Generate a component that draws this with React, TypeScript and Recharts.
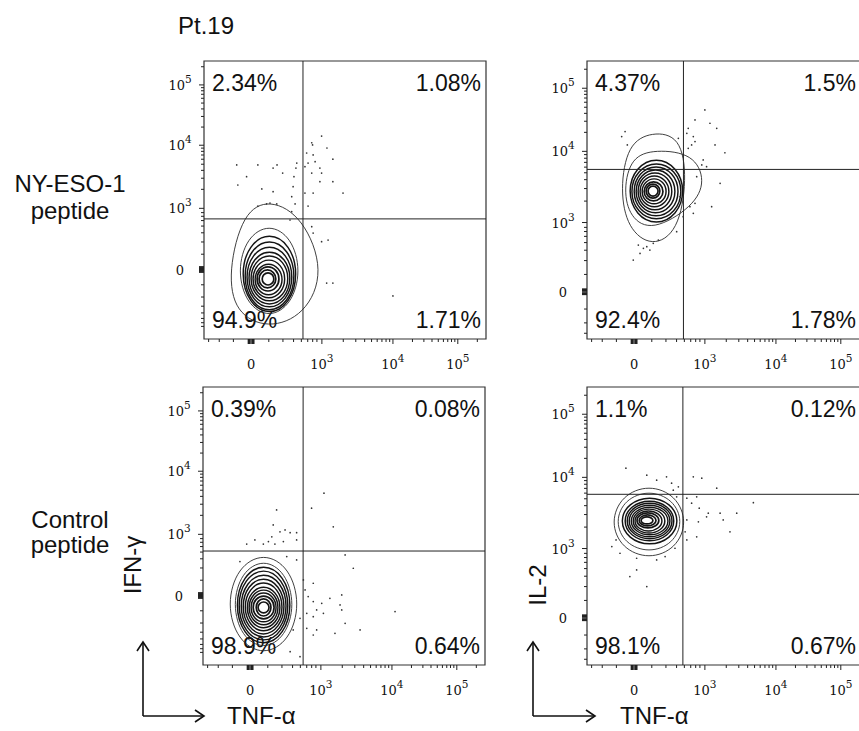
import React from "react";
import { ComposedChart, XAxis, YAxis, Line, Scatter, ReferenceLine, ReferenceArea } from "recharts";

// ---- axis ticks (display channel units 0..1000 across each plot frame) ----
const X_MAJOR_TICKS = [167, 418, 670, 900]; // TNF-α: 0, 10^3, 10^4, 10^5
const IFNG_MAJOR_TICKS = [250, 470, 697, 914]; // IFN-γ: 0, 10^3, 10^4, 10^5
const IL2_MAJOR_TICKS = [170, 419, 675, 902]; // IL-2: 0, 10^3, 10^4, 10^5
const MAJOR_TICK_LABELS = ["0", "3", "4", "5"]; // "0", then exponents of 10

// ---- quadrant percentages: [upper-left, upper-right, lower-left, lower-right] ----
const NY_IFNG_QUADS = ["2.34%", "1.08%", "94.9%", "1.71%"];
const NY_IL2_QUADS = ["4.37%", "1.5%", "92.4%", "1.78%"];
const CTRL_IFNG_QUADS = ["0.39%", "0.08%", "98.9%", "0.64%"];
const CTRL_IL2_QUADS = ["1.1%", "0.12%", "98.1%", "0.67%"];

// ---- quadrant gates [x, y] ----
const NY_IFNG_GATE = [351, 432];
const NY_IL2_GATE = [342, 610];
const CTRL_IFNG_GATE = [355, 410];
const CTRL_IL2_GATE = [340, 614];

// ---- contour rings (closed, control points) ----
const NY_IFNG_CONTOURS = [
  [[429,243],[351,439],[234,504],[138,457],[85,241],[110,93],[227,36],[358,86]],
  [[344,245],[311,365],[231,415],[151,365],[118,245],[151,125],[231,75],[311,125]],
  [[335,234],[305,340],[232,384],[159,340],[129,234],[159,128],[232,84],[305,128]],
  [[328,227],[300,322],[232,362],[164,322],[137,227],[164,132],[232,92],[300,132]],
  [[320,223],[294,307],[232,342],[170,307],[144,223],[170,139],[232,104],[294,139]],
  [[312,219],[289,292],[232,322],[175,292],[152,219],[175,146],[232,116],[289,146]],
  [[304,218],[283,281],[232,307],[181,281],[160,218],[181,155],[232,129],[283,155]],
  [[292,216],[274,269],[230,291],[186,269],[168,216],[186,163],[230,141],[274,163]],
  [[282,214],[266,257],[229,275],[192,257],[176,214],[192,171],[229,153],[266,171]],
  [[270,216],[257,250],[227,264],[197,250],[184,216],[197,182],[227,168],[257,182]],
  [[258,216],[248,241],[225,252],[202,241],[192,216],[202,191],[225,180],[248,191]],
  [[250,216],[243,233],[227,240],[211,233],[204,216],[211,199],[227,192],[243,199]],
];
const NY_IL2_CONTOURS = [
  [[355,576],[332,730],[230,746],[144,702],[117,536],[144,397],[230,330],[324,386]],
  [[421,568],[378,667],[242,682],[156,655],[129,536],[152,437],[230,386],[378,477]],
  [[349,532],[319,619],[246,655],[173,619],[143,532],[173,445],[246,409],[319,445]],
  [[342,531],[314,608],[246,640],[178,608],[150,531],[178,454],[246,422],[314,454]],
  [[331,531],[306,600],[245,628],[184,600],[159,531],[184,462],[245,434],[306,462]],
  [[319,531],[297,591],[243,616],[189,591],[167,531],[189,471],[243,446],[297,471]],
  [[307,531],[288,583],[241,604],[194,583],[175,531],[194,479],[241,458],[288,479]],
  [[296,531],[279,574],[239,592],[199,574],[183,531],[199,488],[239,470],[279,488]],
  [[285,531],[271,566],[238,581],[205,566],[191,531],[205,496],[238,482],[271,496]],
  [[273,531],[262,558],[236,569],[210,558],[199,531],[210,504],[236,493],[262,504]],
  [[261,532],[253,552],[234,560],[215,552],[207,532],[215,512],[234,504],[253,512]],
  [[254,532],[248,546],[234,552],[220,546],[215,532],[220,518],[234,512],[248,518]],
];
const CTRL_IFNG_CONTOURS = [
  [[345,219],[307,351],[215,405],[122,351],[84,219],[122,88],[215,33],[307,88]],
  [[326,218],[293,334],[215,382],[136,334],[104,218],[136,102],[215,54],[293,102]],
  [[318,216],[288,322],[215,366],[142,322],[112,216],[142,110],[215,65],[288,110]],
  [[310,214],[282,311],[215,351],[147,311],[119,214],[147,117],[215,77],[282,117]],
  [[303,212],[277,299],[215,335],[153,299],[127,212],[153,125],[215,89],[277,125]],
  [[295,210],[271,287],[215,319],[158,287],[135,210],[158,133],[215,101],[271,133]],
  [[287,209],[266,276],[215,304],[164,276],[143,209],[164,142],[215,114],[266,142]],
  [[279,207],[260,264],[215,288],[170,264],[151,207],[170,150],[215,126],[260,150]],
  [[271,207],[255,256],[215,276],[175,256],[158,207],[175,158],[215,138],[255,158]],
  [[264,207],[249,248],[215,264],[180,248],[166,207],[180,166],[215,150],[249,166]],
  [[256,207],[244,239],[215,252],[186,239],[174,207],[186,175],[215,161],[244,175]],
  [[244,207],[235,231],[215,241],[194,231],[186,207],[194,183],[215,173],[235,183]],
  [[236,207],[230,222],[215,229],[200,222],[193,207],[200,192],[215,185],[230,192]],
];
const CTRL_IL2_CONTOURS = [
  [[356,514],[316,610],[220,649],[123,610],[83,514],[123,419],[220,380],[316,419]],
  [[341,516],[305,596],[220,629],[134,596],[99,516],[134,436],[220,403],[305,436]],
  [[329,518],[298,582],[222,609],[146,582],[115,518],[146,454],[222,427],[298,454]],
  [[317,518],[289,574],[222,597],[154,574],[126,518],[154,462],[222,439],[289,462]],
  [[310,518],[284,568],[222,589],[160,568],[134,518],[160,468],[222,447],[284,468]],
  [[302,518],[278,563],[222,581],[165,563],[142,518],[165,473],[222,455],[278,473]],
  [[294,518],[273,557],[222,573],[171,557],[150,518],[171,479],[222,463],[273,479]],
  [[282,518],[264,552],[220,565],[176,552],[158,518],[176,484],[220,470],[264,484]],
  [[271,518],[255,546],[218,558],[181,546],[165,518],[181,490],[218,478],[255,490]],
  [[259,520],[246,541],[216,550],[186,541],[173,520],[186,499],[216,490],[246,499]],
  [[248,520],[238,535],[215,542],[191,535],[182,520],[191,505],[215,498],[238,505]],
  [[236,520],[229,530],[213,534],[196,530],[190,520],[196,510],[213,506],[229,510]],
];

// ---- outlier events ----
const NY_IFNG_DOTS = [
  [116,626],[191,626],[120,554],[151,584],[245,615],[259,626],[279,597],[329,633],[326,615],
  [319,584],[316,548],[311,512],[245,530],[205,540],[258,486],[234,489],[222,486],[191,478],
  [323,486],[311,458],[364,669],[385,698],[382,706],[417,730],[436,687],[387,662],[369,633],
  [358,620],[394,638],[411,615],[417,597],[382,597],[457,647],[457,566],[411,566],[358,525],
  [387,525],[493,525],[369,478],[382,404],[387,381],[417,350],[440,356],[435,201],[457,201],
  [670,155],[305,428],
];
const NY_IL2_DOTS = [
  [135,746],[143,698],[123,728],[324,722],[354,740],[359,758],[377,728],[383,710],[371,698],
  [359,686],[383,788],[418,824],[436,776],[460,758],[454,698],[489,670],[412,644],[424,620],
  [407,626],[389,584],[472,560],[442,476],[383,488],[377,452],[365,476],[318,386],[235,344],
  [212,332],[200,326],[182,338],[188,308],[164,284],[223,320],[253,356],[330,512],[341,440],
];
const CTRL_IFNG_DOTS = [
  [261,558],[249,504],[273,479],[291,486],[309,476],[332,476],[244,461],[232,444],[214,435],
  [184,450],[155,435],[255,435],[285,444],[332,450],[385,564],[429,618],[462,497],[504,396],
  [533,348],[492,252],[450,240],[421,222],[391,228],[486,216],[492,198],[403,198],[427,186],
  [391,174],[368,186],[373,246],[362,270],[356,306],[368,132],[403,126],[391,108],[468,114],
  [504,150],[557,126],[681,192],[391,294],[332,378],[297,390],[131,372],[309,48],[344,30],
  [320,126],[344,168],
];
const CTRL_IL2_DOTS = [
  [138,708],[212,683],[247,665],[282,677],[300,654],[306,629],[324,641],[377,677],[407,672],
  [460,636],[389,605],[354,600],[371,582],[398,564],[430,546],[472,546],[483,522],[531,546],
  [590,584],[507,479],[424,533],[395,515],[354,522],[348,479],[354,450],[389,461],[103,450],
  [88,426],[117,402],[176,384],[247,378],[152,318],[212,282],[176,342],[277,390],[312,420],
  [318,605],
];

// ---- figure text ----
const FIGURE_TITLE = "Pt.19";
const ROW_LABELS = [["NY-ESO-1", "peptide"], ["Control", "peptide"]];
const X_TITLE = "TNF-α";
const Y_TITLES = ["IFN-γ", "IL-2"];

const SANS = "'Liberation Sans', Arial, Helvetica, sans-serif";
const SERIF = "'DejaVu Serif', 'Liberation Serif', serif";

const LIN_FRACS = [0.25, 0.45, 0.6, 0.71, 0.8, 0.87, 0.93];
const LOG_FRACS = [2, 3, 4, 5, 6, 7, 8, 9].map((k) => Math.log10(k));

function buildTicks(majors: number[]) {
  const minor: number[] = [];
  const cluster: number[] = [];
  const [m0, m1] = majors;
  const d0 = m1 - m0;
  LIN_FRACS.forEach((f) => {
    minor.push(m0 + f * d0);
    if (m0 - f * d0 > 2) minor.push(m0 - f * d0);
  });
  [-9, -5, 5, 9].forEach((o) => cluster.push(m0 + o));
  for (let i = 1; i < majors.length; i++) {
    const d = i + 1 < majors.length ? majors[i + 1] - majors[i] : majors[i] - majors[i - 1];
    LOG_FRACS.forEach((f) => {
      const v = majors[i] + f * d;
      if (v < 998) minor.push(v);
    });
  }
  const all = [...majors, ...minor, ...cluster].sort((a, b) => a - b);
  return { all, cluster };
}

function TickText({ x, y, label, anchor }: any) {
  if (label === "0") {
    return (
      <text x={x} y={y} textAnchor={anchor} fontFamily={SERIF} fontSize={13} fill="#111">
        0
      </text>
    );
  }
  return (
    <text x={x} y={y} textAnchor={anchor} fontFamily={SERIF} fontSize={13} fill="#111">
      <tspan>10</tspan>
      <tspan dy={-7} fontSize={10.5}>{label}</tspan>
    </text>
  );
}

function AxisTick(props: any) {
  const { x, y, payload, axis, majors, cluster } = props;
  const v = payload.value;
  const mi = majors.indexOf(v);
  const isCluster = cluster.indexOf(v) >= 0;
  const len = mi >= 0 || isCluster ? 5 : 3;
  const sw = isCluster ? 1.8 : 1;
  if (axis === "x") {
    return (
      <g>
        <line x1={x} x2={x} y1={y} y2={y + len} stroke="#222" strokeWidth={sw} />
        {mi >= 0 && <TickText x={x} y={y + 30} label={MAJOR_TICK_LABELS[mi]} anchor="middle" />}
      </g>
    );
  }
  return (
    <g>
      <line x1={x} x2={x - len} y1={y} y2={y} stroke="#222" strokeWidth={sw} />
      {mi >= 0 && <TickText x={x - 24} y={y + 5} label={MAJOR_TICK_LABELS[mi]} anchor="middle" />}
    </g>
  );
}

function QuadLabels(props: any) {
  const { viewBox, values, rightInset } = props;
  if (!viewBox) return null;
  const { x, y, width, height } = viewBox;
  return (
    <g fontFamily={SANS} fontSize={23} fill="#111">
      <text x={x + 8} y={y + 30}>{values[0]}</text>
      <text x={x + width - rightInset} y={y + 30} textAnchor="end">{values[1]}</text>
      <text x={x + 8} y={y + height - 11}>{values[2]}</text>
      <text x={x + width - rightInset} y={y + height - 11} textAnchor="end">{values[3]}</text>
    </g>
  );
}

const PLOT_W = 282;
const PLOT_H = 278;
const Y_AXIS_W = 60;
const X_AXIS_H = 50;
const M_TOP = 5;
const M_RIGHT = 5;

function FlowPanel({ frameLeft, frameTop, contours, dots, gate, quads, yMajors, rightInset }: any) {
  const xt = buildTicks(X_MAJOR_TICKS);
  const yt = buildTicks(yMajors);
  const dotData = dots.map(([x, y]: number[]) => ({ x, y }));
  const n = contours.length;
  return (
    <div style={{ position: "absolute", left: frameLeft - Y_AXIS_W, top: frameTop - M_TOP }}>
      <ComposedChart
        width={Y_AXIS_W + PLOT_W + M_RIGHT}
        height={M_TOP + PLOT_H + X_AXIS_H}
        margin={{ top: M_TOP, right: M_RIGHT, bottom: 0, left: 0 }}
      >
        <XAxis
          type="number"
          dataKey="x"
          domain={[0, 1000]}
          allowDataOverflow
          ticks={xt.all}
          interval={0}
          tick={<AxisTick axis="x" majors={X_MAJOR_TICKS} cluster={xt.cluster} />}
          tickLine={false}
          axisLine={false}
          tickSize={0}
          tickMargin={0}
          height={X_AXIS_H}
        />
        <YAxis
          type="number"
          dataKey="y"
          domain={[0, 1000]}
          allowDataOverflow
          ticks={yt.all}
          interval={0}
          tick={<AxisTick axis="y" majors={yMajors} cluster={yt.cluster} />}
          tickLine={false}
          axisLine={false}
          tickSize={0}
          tickMargin={0}
          width={Y_AXIS_W}
        />
        {contours.map((ring: number[][], i: number) => (
          <Line
            key={"c" + i}
            data={ring.map(([x, y]) => ({ x, y }))}
            dataKey="y"
            type="basisClosed"
            stroke={i < 2 ? "#2a2a2a" : "#141414"}
            strokeWidth={i < 2 ? 0.9 : i < n - 3 ? 1.45 : 1.7}
            dot={false}
            activeDot={false}
            isAnimationActive={false}
            legendType="none"
          />
        ))}
        <Scatter
          data={dotData}
          isAnimationActive={false}
          shape={(p: any) => <circle cx={p.cx} cy={p.cy} r={0.85} fill="#333" />}
        />
        <ReferenceLine x={gate[0]} stroke="#222" strokeWidth={1} />
        <ReferenceLine y={gate[1]} stroke="#222" strokeWidth={1} />
        <ReferenceArea
          x1={0}
          x2={1000}
          y1={0}
          y2={1000}
          stroke="#333"
          strokeWidth={1.2}
          fill="none"
          fillOpacity={0}
          label={<QuadLabels values={quads} rightInset={rightInset} />}
        />
      </ComposedChart>
    </div>
  );
}

function Arrow({ x, yTop, yBottom, xRight }: any) {
  return (
    <g stroke="#111" strokeWidth={1.6} fill="none">
      <line x1={x} y1={yBottom} x2={x} y2={yTop} />
      <polyline points={`${x - 6},${yTop + 9} ${x},${yTop} ${x + 6},${yTop + 9}`} />
      <line x1={x} y1={yBottom} x2={xRight} y2={yBottom} />
      <polyline points={`${xRight - 9},${yBottom - 6} ${xRight},${yBottom} ${xRight - 9},${yBottom + 6}`} />
    </g>
  );
}

export default function App() {
  return (
    <div
      style={{
        position: "absolute",
        left: 0,
        top: 0,
        width: 859,
        height: 731,
        overflow: "hidden",
        background: "#fff",
      }}
    >
      <svg width={859} height={731} style={{ position: "absolute", left: 0, top: 0 }}>
        <g fontFamily={SANS} fontSize={24} fill="#111">
          <text x={178} y={34}>{FIGURE_TITLE}</text>
          <text x={70} y={192} textAnchor="middle">{ROW_LABELS[0][0]}</text>
          <text x={70} y={219} textAnchor="middle">{ROW_LABELS[0][1]}</text>
          <text x={70} y={528} textAnchor="middle">{ROW_LABELS[1][0]}</text>
          <text x={70} y={553} textAnchor="middle">{ROW_LABELS[1][1]}</text>
          <text x={133} y={573} textAnchor="middle" transform="rotate(-90 133 565)">{Y_TITLES[0]}</text>
          <text x={538} y={593} textAnchor="middle" transform="rotate(-90 538 585)">{Y_TITLES[1]}</text>
          <text x={227} y={724}>{X_TITLE}</text>
          <text x={620} y={724}>{X_TITLE}</text>
        </g>
        <Arrow x={143} yTop={642} yBottom={716} xRight={204} />
        <Arrow x={533} yTop={642} yBottom={716} xRight={595} />
      </svg>
      <FlowPanel frameLeft={204} frameTop={61} contours={NY_IFNG_CONTOURS} dots={NY_IFNG_DOTS} gate={NY_IFNG_GATE} quads={NY_IFNG_QUADS} yMajors={IFNG_MAJOR_TICKS} rightInset={5} />
      <FlowPanel frameLeft={587} frameTop={61} contours={NY_IL2_CONTOURS} dots={NY_IL2_DOTS} gate={NY_IL2_GATE} quads={NY_IL2_QUADS} yMajors={IL2_MAJOR_TICKS} rightInset={13} />
      <FlowPanel frameLeft={203} frameTop={387} contours={CTRL_IFNG_CONTOURS} dots={CTRL_IFNG_DOTS} gate={CTRL_IFNG_GATE} quads={CTRL_IFNG_QUADS} yMajors={IFNG_MAJOR_TICKS} rightInset={5} />
      <FlowPanel frameLeft={587} frameTop={387} contours={CTRL_IL2_CONTOURS} dots={CTRL_IL2_DOTS} gate={CTRL_IL2_GATE} quads={CTRL_IL2_QUADS} yMajors={IL2_MAJOR_TICKS} rightInset={13} />
    </div>
  );
}
